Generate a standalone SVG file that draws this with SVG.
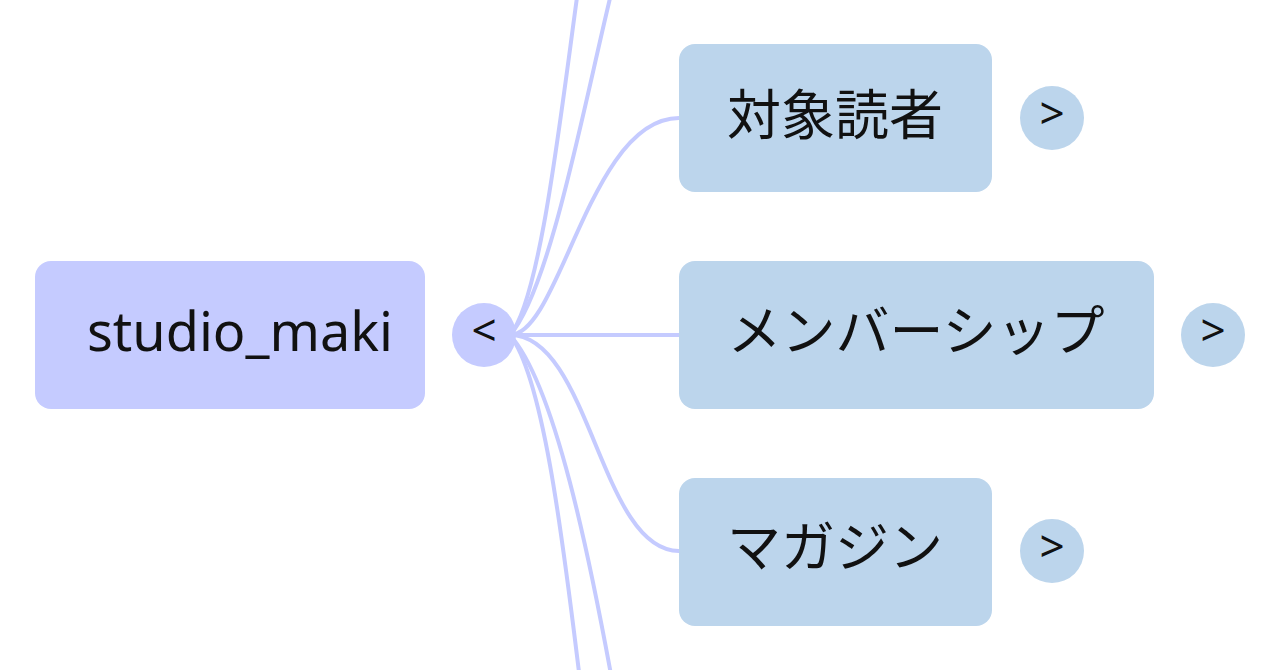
<svg xmlns="http://www.w3.org/2000/svg" width="1280" height="670" viewBox="0 0 1280 670">
<style>
.root{fill:#c5cbff}
.child{fill:#bcd5ec}
.t{font-family:"Noto Sans","Noto Sans CJK JP",sans-serif;font-size:54px;fill:#111;text-anchor:middle;dominant-baseline:central}
.b{font-family:"Noto Sans",sans-serif;font-size:44px;fill:#111;text-anchor:middle;dominant-baseline:central}
.c{fill:none;stroke:#c5cbff;stroke-width:4}
</style>
<rect width="1280" height="670" fill="#fff"/>
<g id="connectors">
<path class="c" d="M510,335 C560,335 590,118 679,118"/>
<path class="c" d="M510,335 L679,335"/>
<path class="c" d="M510,335 C590,335 600,551 679,551"/>
<path class="c" d="M510,335 C540,300 560,120 578,-10"/>
<path class="c" d="M510,335 C550,290 585,100 612,-10"/>
<path class="c" d="M510,335 C545,380 565,560 580,680"/>
<path class="c" d="M510,335 C555,385 590,560 612,680"/>
</g>
<g id="root">
<rect class="root" x="35" y="261" width="390" height="148" rx="16"/>
<text class="t" x="240" y="330">studio_maki</text>
</g>
<g id="root-toggle">
<circle class="root" cx="484" cy="335" r="32"/>
<text class="b" x="484" y="329">&lt;</text>
</g>
<g id="n1">
<rect class="child" x="679" y="44" width="313" height="148" rx="16"/>
<text class="t" x="835" y="114">対象読者</text>
<circle class="child" cx="1052" cy="118" r="32"/>
<text class="b" x="1052" y="112">&gt;</text>
</g>
<g id="n2">
<rect class="child" x="679" y="261" width="475" height="148" rx="16"/>
<text class="t" x="916" y="330">メンバーシップ</text>
<circle class="child" cx="1213" cy="335" r="32"/>
<text class="b" x="1213" y="329">&gt;</text>
</g>
<g id="n3">
<rect class="child" x="679" y="478" width="313" height="148" rx="16"/>
<text class="t" x="835" y="546">マガジン</text>
<circle class="child" cx="1052" cy="551" r="32"/>
<text class="b" x="1052" y="545">&gt;</text>
</g>
</svg>
